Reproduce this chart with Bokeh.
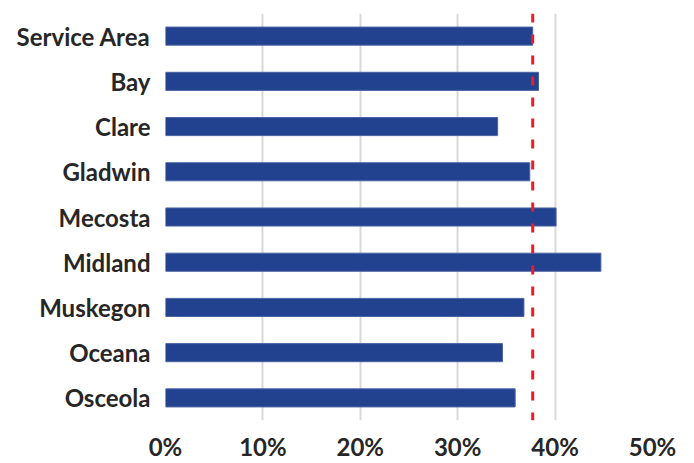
from bokeh.plotting import figure
from bokeh.models import FactorRange, Span, NumeralTickFormatter, FixedTicker
from bokeh.embed import file_html
from bokeh.resources import INLINE

categories = ["Service Area", "Bay", "Clare", "Gladwin", "Mecosta", "Midland", "Muskegon", "Oceana", "Osceola"]
values = [0.377, 0.383, 0.341, 0.374, 0.401, 0.447, 0.368, 0.346, 0.359]
reference_value = 0.377
x_ticks = [0, 0.1, 0.2, 0.3, 0.4, 0.5]

p = figure(width=694, height=463, output_backend="svg", toolbar_location=None,
           y_range=FactorRange(factors=list(reversed(categories)), range_padding=0),
           x_range=(0, 0.5),
           min_border_left=165, min_border_right=42, min_border_top=13, min_border_bottom=37)

p.hbar(y=categories, right=values, left=0, height=0.4,
       fill_color="#22418F", line_color="#4A63A6", line_width=1)

p.add_layout(Span(location=reference_value, dimension="height",
                  line_color="#F21B24", line_width=3, line_dash="9 12"))

p.outline_line_color = None
p.ygrid.grid_line_color = None
p.xgrid.grid_line_color = "#D9D9D9"
p.xgrid.grid_line_width = 2
p.xaxis.ticker = FixedTicker(ticks=x_ticks)
p.xaxis.formatter = NumeralTickFormatter(format="0%")

for ax in (p.xaxis, p.yaxis):
    ax.axis_line_color = None
    ax.major_tick_line_color = None
    ax.minor_tick_line_color = None
    ax.major_tick_out = 0
    ax.major_tick_in = 0
    ax.minor_tick_out = 0
    ax.minor_tick_in = 0
    ax.major_label_text_font = "Lato"
    ax.major_label_text_font_style = "bold"
    ax.major_label_text_font_size = "24px"
    ax.major_label_text_color = "#262626"

p.xaxis.major_label_standoff = 11
p.yaxis.major_label_standoff = 15

open("out.html", "w").write(file_html(p, INLINE))
